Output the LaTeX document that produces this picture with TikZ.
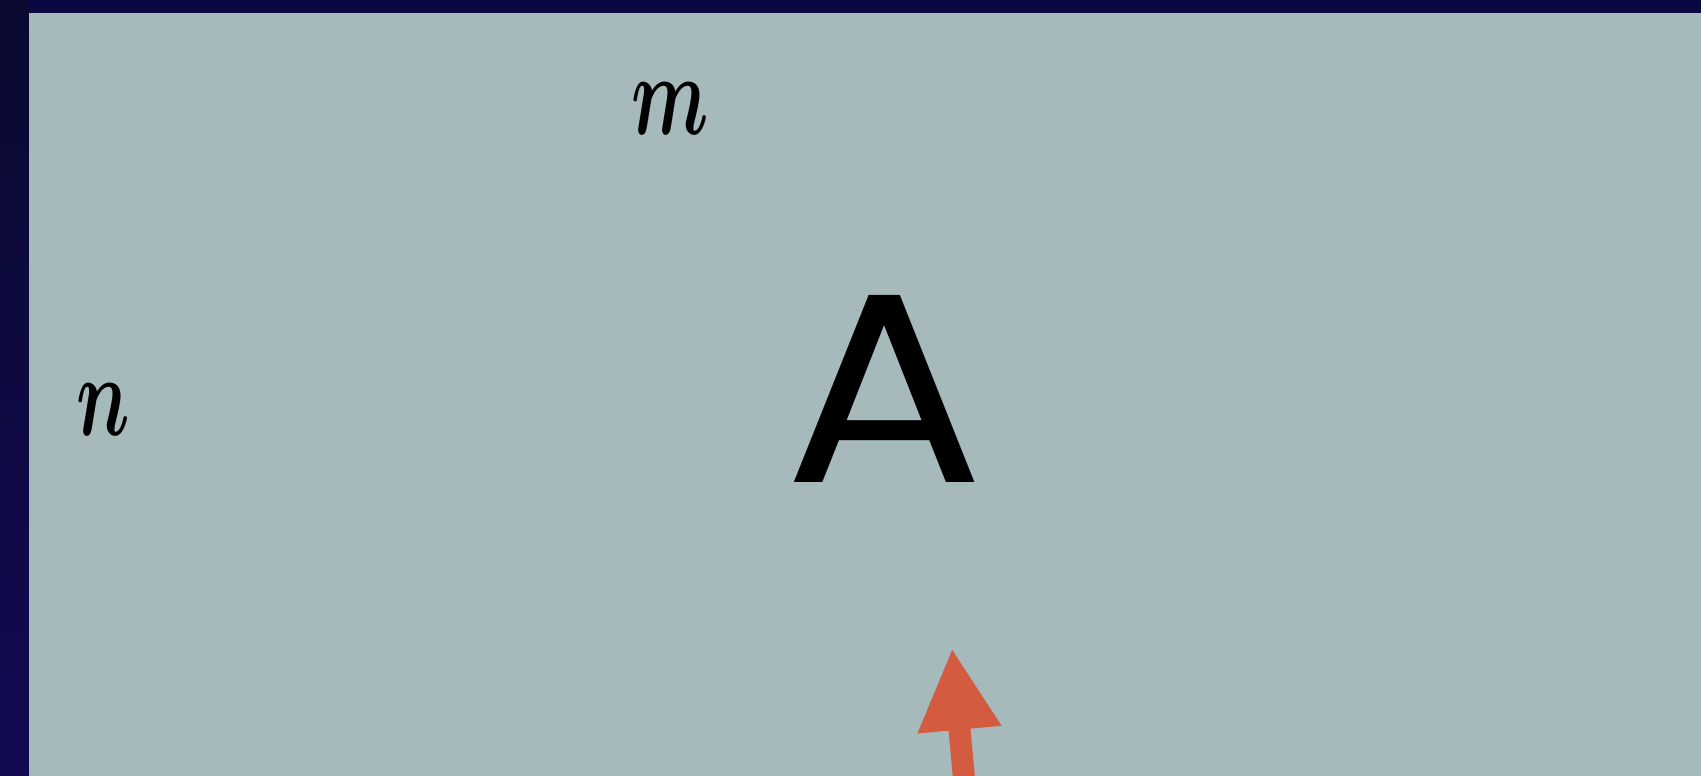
\documentclass[tikz,border=0pt]{standalone}
\usepackage{fontspec}
\newfontfamily\geofont{Poppins}
\usetikzlibrary{arrows.meta}
\definecolor{navy}{HTML}{0A0840}
\definecolor{navytop}{HTML}{0A0A30}
\definecolor{navybot}{HTML}{120A52}
\definecolor{panel}{HTML}{A6BABB}
\definecolor{arrowred}{HTML}{D35B3F}
\tikzset{
  lbl/.style={inner sep=0pt, text=black},
  pointer/.style={draw=arrowred, line width=22pt, -{Triangle[length=82pt,width=78pt]}, arrowred}
}
\begin{document}
\begin{tikzpicture}[x=1pt,y=-1pt]
\useasboundingbox (0,0) rectangle (1701,776);
\fill[navy] (0,0) rectangle (1701,13);
\shade[top color=navytop, bottom color=navybot] (0,0) rectangle (29,776);
\fill[panel] (29,13) rectangle (1701,776);
\node[lbl] (m) at (670,109) {\scalebox{7.5}[11.6]{\boldmath$m$}};
\node[lbl] (n) at (103,410) {\scalebox{7.5}[11.6]{\boldmath$n$}};
\node[lbl, font=\geofont\fontsize{270}{270}\selectfont, xscale=1.1] (A) at (884.5,388.5) {A};
\coordinate (tail) at (966,800);
\coordinate (tip) at (952,648);
\draw[pointer] (tail) -- (tip);
\end{tikzpicture}
\end{document}
